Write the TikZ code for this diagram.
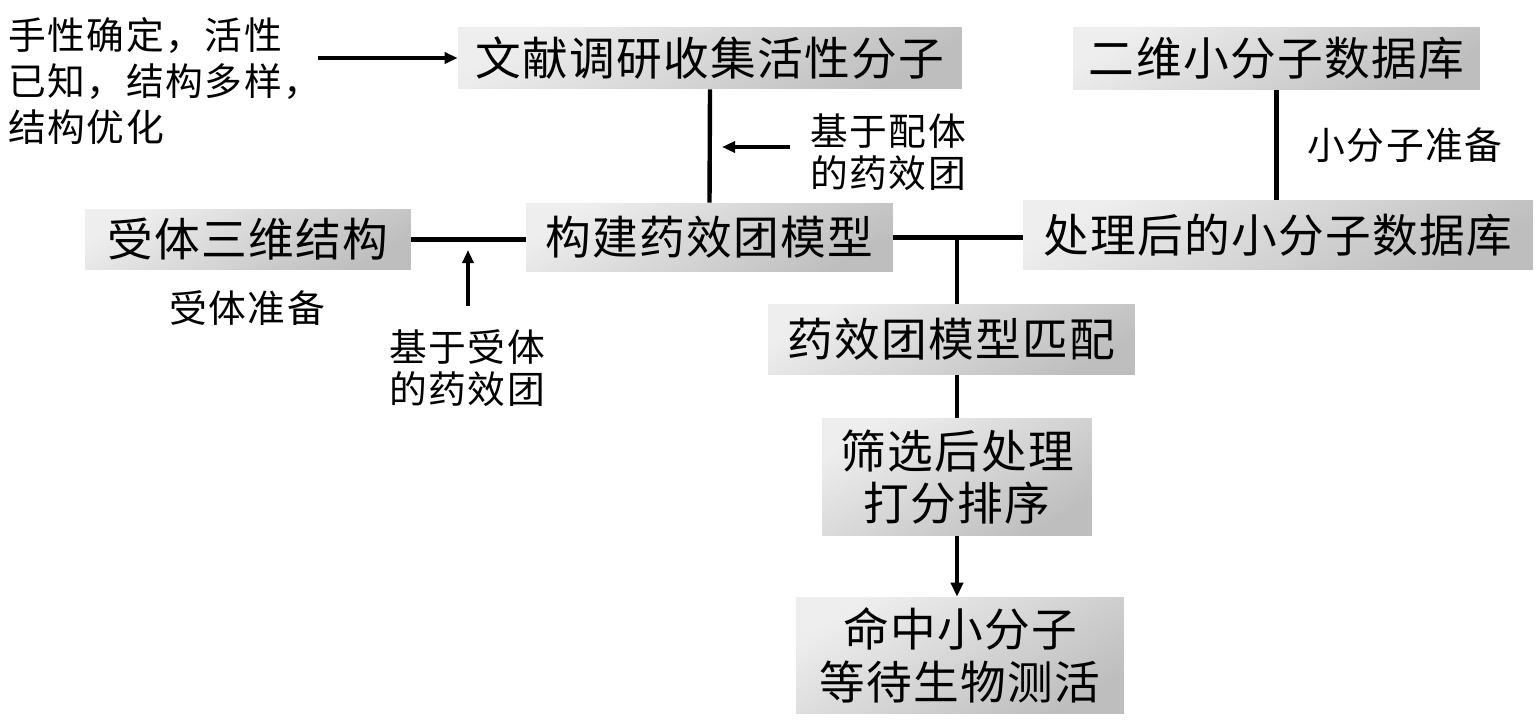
\documentclass[tikz,border=0pt]{standalone}
\usepackage{fontspec}
\setmainfont{Noto Sans CJK SC}
\newfontfamily\boxfont{Noto Sans CJK SC}[LetterSpace=3]
\newfontfamily\lblfont{Noto Sans CJK SC}[LetterSpace=4]
\usetikzlibrary{arrows.meta}
\definecolor{boxlight}{HTML}{EEEEEE}
\definecolor{boxdark}{HTML}{BEBEBE}
\begin{document}
\begin{tikzpicture}[x=0.02cm,y=-0.02cm,
  box/.style={shade, top color=boxlight, bottom color=boxdark, shading angle=30,
    inner sep=0pt, align=center, font=\boxfont\fontsize{26}{30}\selectfont},
  lbl/.style={inner sep=0pt, align=left, font=\lblfont\fontsize{21.5}{24}\selectfont},
  conn/.style={line width=2.5pt},
  arr/.style={line width=2pt, -{Triangle[length=0.26cm,width=0.22cm]}}]
\fill[white] (0,0) rectangle (1537,720);
\useasboundingbox (0,0) rectangle (1537,720);

% boxes
\node[box, minimum width=10.08cm, minimum height=1.24cm] (lit) at (710,58) {文献调研收集活性分子};
\node[box, minimum width=8.14cm, minimum height=1.26cm] (db2d) at (1276.5,58.5) {二维小分子数据库};
\node[box, minimum width=7.34cm, minimum height=1.38cm] (build) at (709.5,237.5) {构建药效团模型};
\node[box, minimum width=6.52cm, minimum height=1.22cm] (rec) at (248,239.5) {受体三维结构};
\node[box, minimum width=10.2cm, minimum height=1.4cm] (dbproc) at (1278,235) {处理后的小分子数据库};
\node[box, minimum width=7.34cm, minimum height=1.42cm] (match) at (951.5,339.5) {药效团模型匹配};
\node[box, minimum width=5.4cm, minimum height=2.36cm] (screen) at (957,477) {筛选后处理\\打分排序};
\node[box, minimum width=6.56cm, minimum height=2.34cm] (hit) at (960,655.5) {命中小分子\\等待生物测活};

% labels
\node[lbl, font=\lblfont\fontsize{21.5}{26}\selectfont, anchor=west] (lchir) at (8,81) {手性确定，活性\\已知，结构多样，\\结构优化};
\node[lbl] (lligand) at (888,152) {基于配体\\的药效团};
\node[lbl] (lsmall) at (1405,145) {小分子准备};
\node[lbl] (lrecp) at (247,308) {受体准备};
\node[lbl] (lrecph) at (467,368) {基于受体\\的药效团};

% helper coordinates
\coordinate (a1) at (318,58);
\coordinate (a2s) at (790,147);
\coordinate (a2e) at (722,147);
\coordinate (a3s) at (468,306);
\coordinate (a3e) at (468,250);
\coordinate (j) at (957,237.5);

% connectors
\draw[arr] (a1) -- (lit.west);
\draw[conn] (lit.south) -- (build.north);
\draw[arr] (a2s) -- (a2e);
\draw[conn] (rec.east) -- (rec.east -| build.west);
\draw[arr] (a3s) -- (a3e);
\draw[conn] (build.east) -- (build.east -| dbproc.west);
\draw[conn] (db2d.south) -- (db2d.south |- dbproc.north);
\draw[conn] (j) -- (j |- match.north);
\draw[conn] (screen.north |- match.south) -- (screen.north);
\draw[conn, -{Triangle[length=0.28cm,width=0.24cm]}] (screen.south) -- (hit.north -| screen.south);
\end{tikzpicture}
\end{document}
